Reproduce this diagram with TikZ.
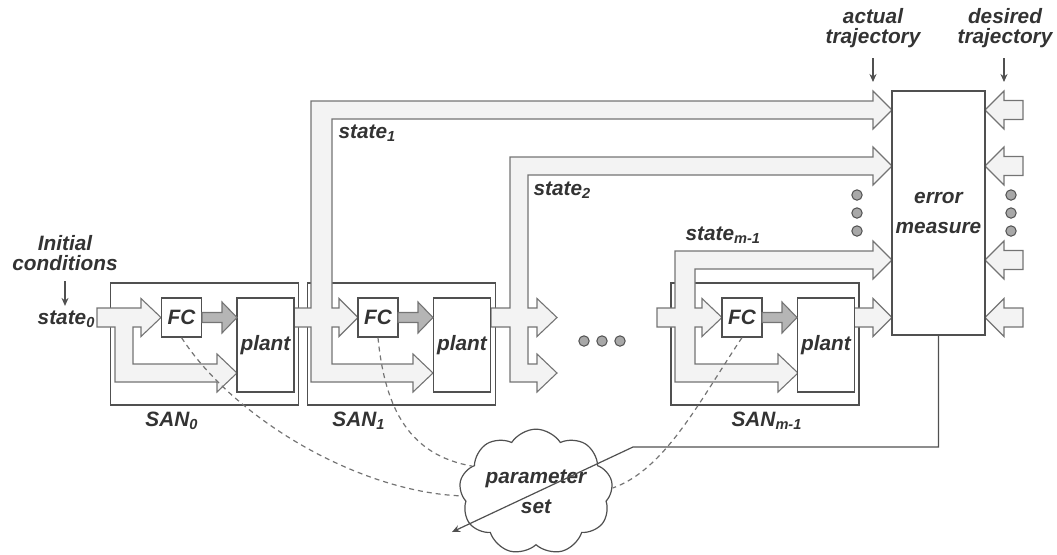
\documentclass[tikz,border=0pt]{standalone}
\usepackage{fontspec}
\setmainfont{Liberation Sans}
\usetikzlibrary{shapes.symbols,arrows.meta}
\definecolor{txtgray}{HTML}{333333}
\definecolor{boxgray}{HTML}{505050}
\definecolor{bandline}{HTML}{747474}
\definecolor{bandfill}{HTML}{F3F3F3}
\definecolor{gfill}{HTML}{B5B5B5}
\definecolor{dotfill}{HTML}{A8A8A8}

\begin{document}
\begin{tikzpicture}[x=0.5pt, y=-0.5pt, line width=0.6pt,
    tx/.style={font=\fontsize{10.4}{10}\selectfont\bfseries\itshape, text=txtgray, align=center, inner sep=0pt},
    boxtx/.style={font=\fontsize{10.4}{15}\selectfont\bfseries\itshape, text=txtgray, align=center, inner sep=0pt},
    fcbox/.style={boxtx, draw=boxgray, fill=white, minimum width=20pt, minimum height=19.5pt},
    plantbox/.style={boxtx, draw=boxgray, fill=white, minimum width=28.5pt, minimum height=47pt},
    sanbox/.style={draw=boxgray, minimum width=94pt, minimum height=61pt},
    errbox/.style={boxtx, draw=boxgray, fill=white, minimum width=46.5pt, minimum height=122pt},
    cloudbox/.style={boxtx, cloud, cloud puffs=9, cloud puff arc=115, aspect=1.35, draw=boxgray, fill=white, minimum width=72pt, minimum height=54pt},
    band/.style={draw=bandline, fill=bandfill, line width=0.55pt},
    gband/.style={draw=bandline, fill=gfill, line width=0.55pt},
    thinarr/.style={draw=boxgray, -{Stealth[length=4pt,width=3.5pt]}},
    dashline/.style={draw=bandline, dash pattern=on 2.5pt off 2pt},
    ]
    \useasboundingbox (0,0) rectangle (1057,554);

    \node[sanbox] (san0) at (204.5,344) {};
    \node[sanbox] (san1) at (401.5,344) {};
    \node[sanbox] (sanm) at (765,344) {};

    \draw[band] (97,308) -- (141,308) -- (141,298.5) -- (161,317.5) -- (141,336.5) -- (141,327) -- (133,327) -- (133,364) -- (217,364) -- (217,354) -- (237,373) -- (217,392) -- (217,382) -- (115,382) -- (115,327) -- (97,327) -- cycle;
    \draw[band] (294,308) -- (311,308) -- (311,101) -- (873,101) -- (873,91) -- (892,110) -- (873,129) -- (873,119) -- (332,119) -- (332,308) -- (339,308) -- (339,298.5) -- (358,317.5) -- (339,336.5) -- (339,327) -- (332,327) -- (332,364) -- (413,364) -- (413,354) -- (433,373) -- (413,392) -- (413,382) -- (311,382) -- (311,327) -- (294,327) -- cycle;
    \draw[band] (491,308) -- (510,308) -- (510,157) -- (873,157) -- (873,147) -- (892,166) -- (873,185) -- (873,175) -- (528,175) -- (528,308) -- (537,308) -- (537,298.5) -- (557,317.5) -- (537,336.5) -- (537,327) -- (528,327) -- (528,364) -- (537,364) -- (537,354) -- (557,373) -- (537,392) -- (537,382) -- (510,382) -- (510,327) -- (491,327) -- cycle;
    \draw[band] (657,308) -- (675,308) -- (675,251) -- (873,251) -- (873,241) -- (892,260) -- (873,279) -- (873,269) -- (695,269) -- (695,308) -- (702,308) -- (702,298.5) -- (722,317.5) -- (702,336.5) -- (702,327) -- (695,327) -- (695,364) -- (778,364) -- (778,354) -- (798,373) -- (778,392) -- (778,382) -- (675,382) -- (675,327) -- (657,327) -- cycle;
    \draw[band] (853,308) -- (873,308) -- (873,298.5) -- (892,317.5) -- (873,336.5) -- (873,327) -- (853,327) -- cycle;
    \foreach \y in {110,166,260,317.5}
        \draw[band] (1023,\y-9.5) -- (1004,\y-9.5) -- (1004,\y-19) -- (985,\y) -- (1004,\y+19) -- (1004,\y+9.5) -- (1023,\y+9.5) -- cycle;

    \node[fcbox] (fc0) at (181.5,317.5) {FC};
    \node[fcbox] (fc1) at (378,317.5) {FC};
    \node[fcbox] (fcm) at (742,317.5) {FC};
    \node[plantbox] (pl0) at (265.5,345) {plant};
    \node[plantbox] (pl1) at (462,345) {plant};
    \node[plantbox] (plm) at (826,345) {plant};

    \draw[gband] (202,312.5) -- (222,312.5) -- (222,302) -- (237,317.5) -- (222,333) -- (222,322.5) -- (202,322.5) -- cycle;
    \draw[gband] (398,312.5) -- (418,312.5) -- (418,302) -- (433,317.5) -- (418,333) -- (418,322.5) -- (398,322.5) -- cycle;
    \draw[gband] (762,312.5) -- (782,312.5) -- (782,302) -- (797,317.5) -- (782,333) -- (782,322.5) -- (762,322.5) -- cycle;

    \node[errbox] (err) at (938.5,213) {error\\measure};

    \foreach \y in {195,213,231} {
        \filldraw[draw=boxgray, fill=dotfill, line width=0.5pt] (857,\y) circle (2.6pt);
        \filldraw[draw=boxgray, fill=dotfill, line width=0.5pt] (1011,\y) circle (2.6pt);
    }
    \foreach \x in {584,602,620}
        \filldraw[draw=boxgray, fill=dotfill, line width=0.5pt] (\x,341) circle (2.6pt);

    \node[tx] (init) at (65,253) {Initial\\conditions};
    \node[tx, anchor=east] (st0) at (96,319) {state\textsubscript{0}};
    \node[tx, anchor=west] (st1) at (338,133) {state\textsubscript{1}};
    \node[tx, anchor=west] (st2) at (533,190) {state\textsubscript{2}};
    \node[tx, anchor=west] (stm) at (685,235) {state\textsubscript{m-1}};
    \node[tx] (lsan0) at (172,421) {SAN\textsubscript{0}};
    \node[tx] (lsan1) at (359,421) {SAN\textsubscript{1}};
    \node[tx] (lsanm) at (767,421) {SAN\textsubscript{m-1}};
    \node[tx] (act) at (873,28) {actual\\trajectory};
    \node[tx] (des) at (1005,28) {desired\\trajectory};
    \coordinate (acttip) at (873,82);
    \coordinate (destip) at (1004,82);

    \draw[thinarr, shorten <=5pt, shorten >=2pt] (init.south) -- (st0.north -| init.south);
    \draw[thinarr, shorten <=5pt] (act.south) -- (acttip);
    \draw[thinarr, shorten <=5pt] (des.south -| destip) -- (destip);

    \node[cloudbox] (par) at (536,492) {parameter\\set};

    \draw[dashline] (fc0.south) .. controls (235,420) and (360,492) .. (par.183);
    \draw[dashline] (fc1.south) .. controls (385,410) and (410,455) .. (par.158);
    \draw[dashline] (fcm.south) .. controls (700,400) and (665,470) .. (par.3);

    \coordinate (fb) at (633,447);
    \coordinate (fbend) at (452,532);
    \draw[thinarr] (err.south) |- (fb) -- (fbend);
\end{tikzpicture}
\end{document}
